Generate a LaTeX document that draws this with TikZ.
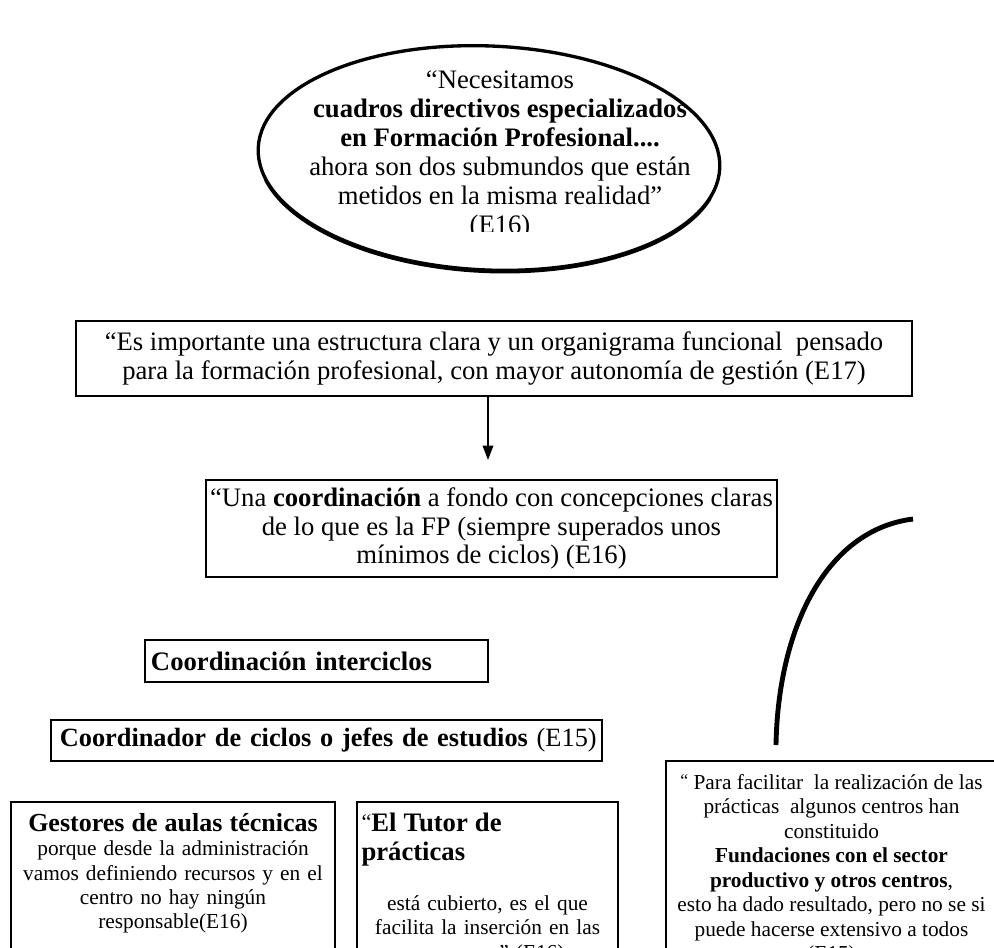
\documentclass[tikz,border=0pt]{standalone}
\usepackage{fontspec}
\setmainfont{Liberation Serif}
\usepackage{tikz}
\usetikzlibrary{arrows.meta,shapes.geometric}

\begin{document}
\begin{tikzpicture}[x=0.45pt, y=-0.45pt,
    bubble/.style={ellipse, draw, line width=1.5pt, minimum width=207.9pt, minimum height=100.8pt, inner sep=0pt},
    quotebox/.style={draw, line width=0.9pt, align=center, inner sep=0pt, font=\fontsize{12}{13}\selectfont},
    headbox/.style={draw, line width=0.9pt, align=left, inner ysep=0pt, font=\fontsize{12}{13}\selectfont\bfseries},
    panel/.style={draw, line width=0.9pt, anchor=north, text depth=150pt, inner xsep=2pt, inner ysep=5pt, font=\fontsize{9.6}{11}\selectfont},
    flow/.style={-{Triangle[length=6.5pt,width=4.8pt]}, line width=0.6pt},
    link/.style={line width=2.2pt}
  ]
  \path[use as bounding box, fill=white] (0,0) rectangle (994,947);
  \clip (0,0) rectangle (994,947);

  % quote in the bubble
  \node[bubble, rotate=-2.5] (bubble) at (489,158) {};
  \begin{scope}[rotate around={-2.5:(489,158)}]
    \draw[line width=1pt, line cap=round] (489,160) ++(15:231 and 112) arc[start angle=15, end angle=165, x radius=231, y radius=112];
  \end{scope}
  \begin{scope}
    \clip (280,40) rectangle (720,231);
    \node[align=center, inner sep=0pt, font=\fontsize{12}{13}\selectfont] (need) at (500,155)
      {“Necesitamos\\ \textbf{cuadros directivos especializados}\\ \textbf{en Formación Profesional....}\\
       ahora son dos submundos que están\\ metidos en la misma realidad”\\ (E16)};
  \end{scope}

  \node[quotebox, minimum width=376.2pt, minimum height=33.75pt] (organigrama) at (494,358.5)
    {“Es importante una estructura clara y un organigrama funcional\ \ pensado\\
     para la formación profesional, con mayor autonomía de gestión (E17)};
  \node[quotebox, minimum width=257pt, minimum height=43.65pt] (coordinacion) at (491.5,528.5)
    {“Una \textbf{coordinación} a fondo con concepciones claras\\
     de lo que es la FP (siempre superados unos\\ mínimos de ciclos) (E16)};

  \coordinate (tip) at (488,460);
  \draw[flow] (organigrama.south -| tip) -- (tip);

  \node[headbox, inner xsep=2.7pt, text width=148.95pt, minimum height=18.9pt] (interciclos) at (316.5,661)
    {Coordinación interciclos};
  \node[headbox, inner xsep=4pt, text width=240pt, minimum height=18.45pt, font=\fontsize{11.85}{13}\selectfont\bfseries] (coordinador) at (326.5,740.5)
    {\mbox{Coordinador de ciclos o jefes de estudios \mdseries(E15)}};

  % boxes running off the page
  \node[panel, text width=141.5pt, align=center] (gestores) at (173,801)
    {{\fontsize{11.7}{13}\selectfont\bfseries Gestores de aulas técnicas\par}
     porque desde la administración\\ vamos definiendo recursos y en el\\ centro no hay ningún\\ responsable(E16)};
  \node[panel, text width=113.4pt, align=left] (tutor) at (487.5,801)
    {{\fontsize{12}{13}\selectfont\raisebox{1pt}{\fontsize{10}{11}\selectfont “}\textbf{El Tutor de}\\ \textbf{prácticas}\par}
     \vspace{11.5pt}
     {\centering está cubierto, es el que\\ facilita la inserción en las\\ \hspace*{40pt}” (E16)\par}};
  \node[panel, minimum width=149pt, inner xsep=1pt, inner ysep=6pt, align=center] (fundaciones) at (831.5,760)
    {\raisebox{1.5pt}{\footnotesize “} Para facilitar\ \ la realización de las\\ prácticas\ \ algunos centros han\\ constituido\\
     \textbf{Fundaciones con el sector}\\ \textbf{productivo y otros centros},\\
     esto ha dado resultado, pero no se si\\ puede hacerse extensivo a todos\\ (E15)};

  \coordinate (linkfoot) at (776,745);
  \coordinate (linktop) at (913,519);
  \draw[link] (linkfoot) .. controls (778,630) and (825,530) .. (linktop);
\end{tikzpicture}
\end{document}
